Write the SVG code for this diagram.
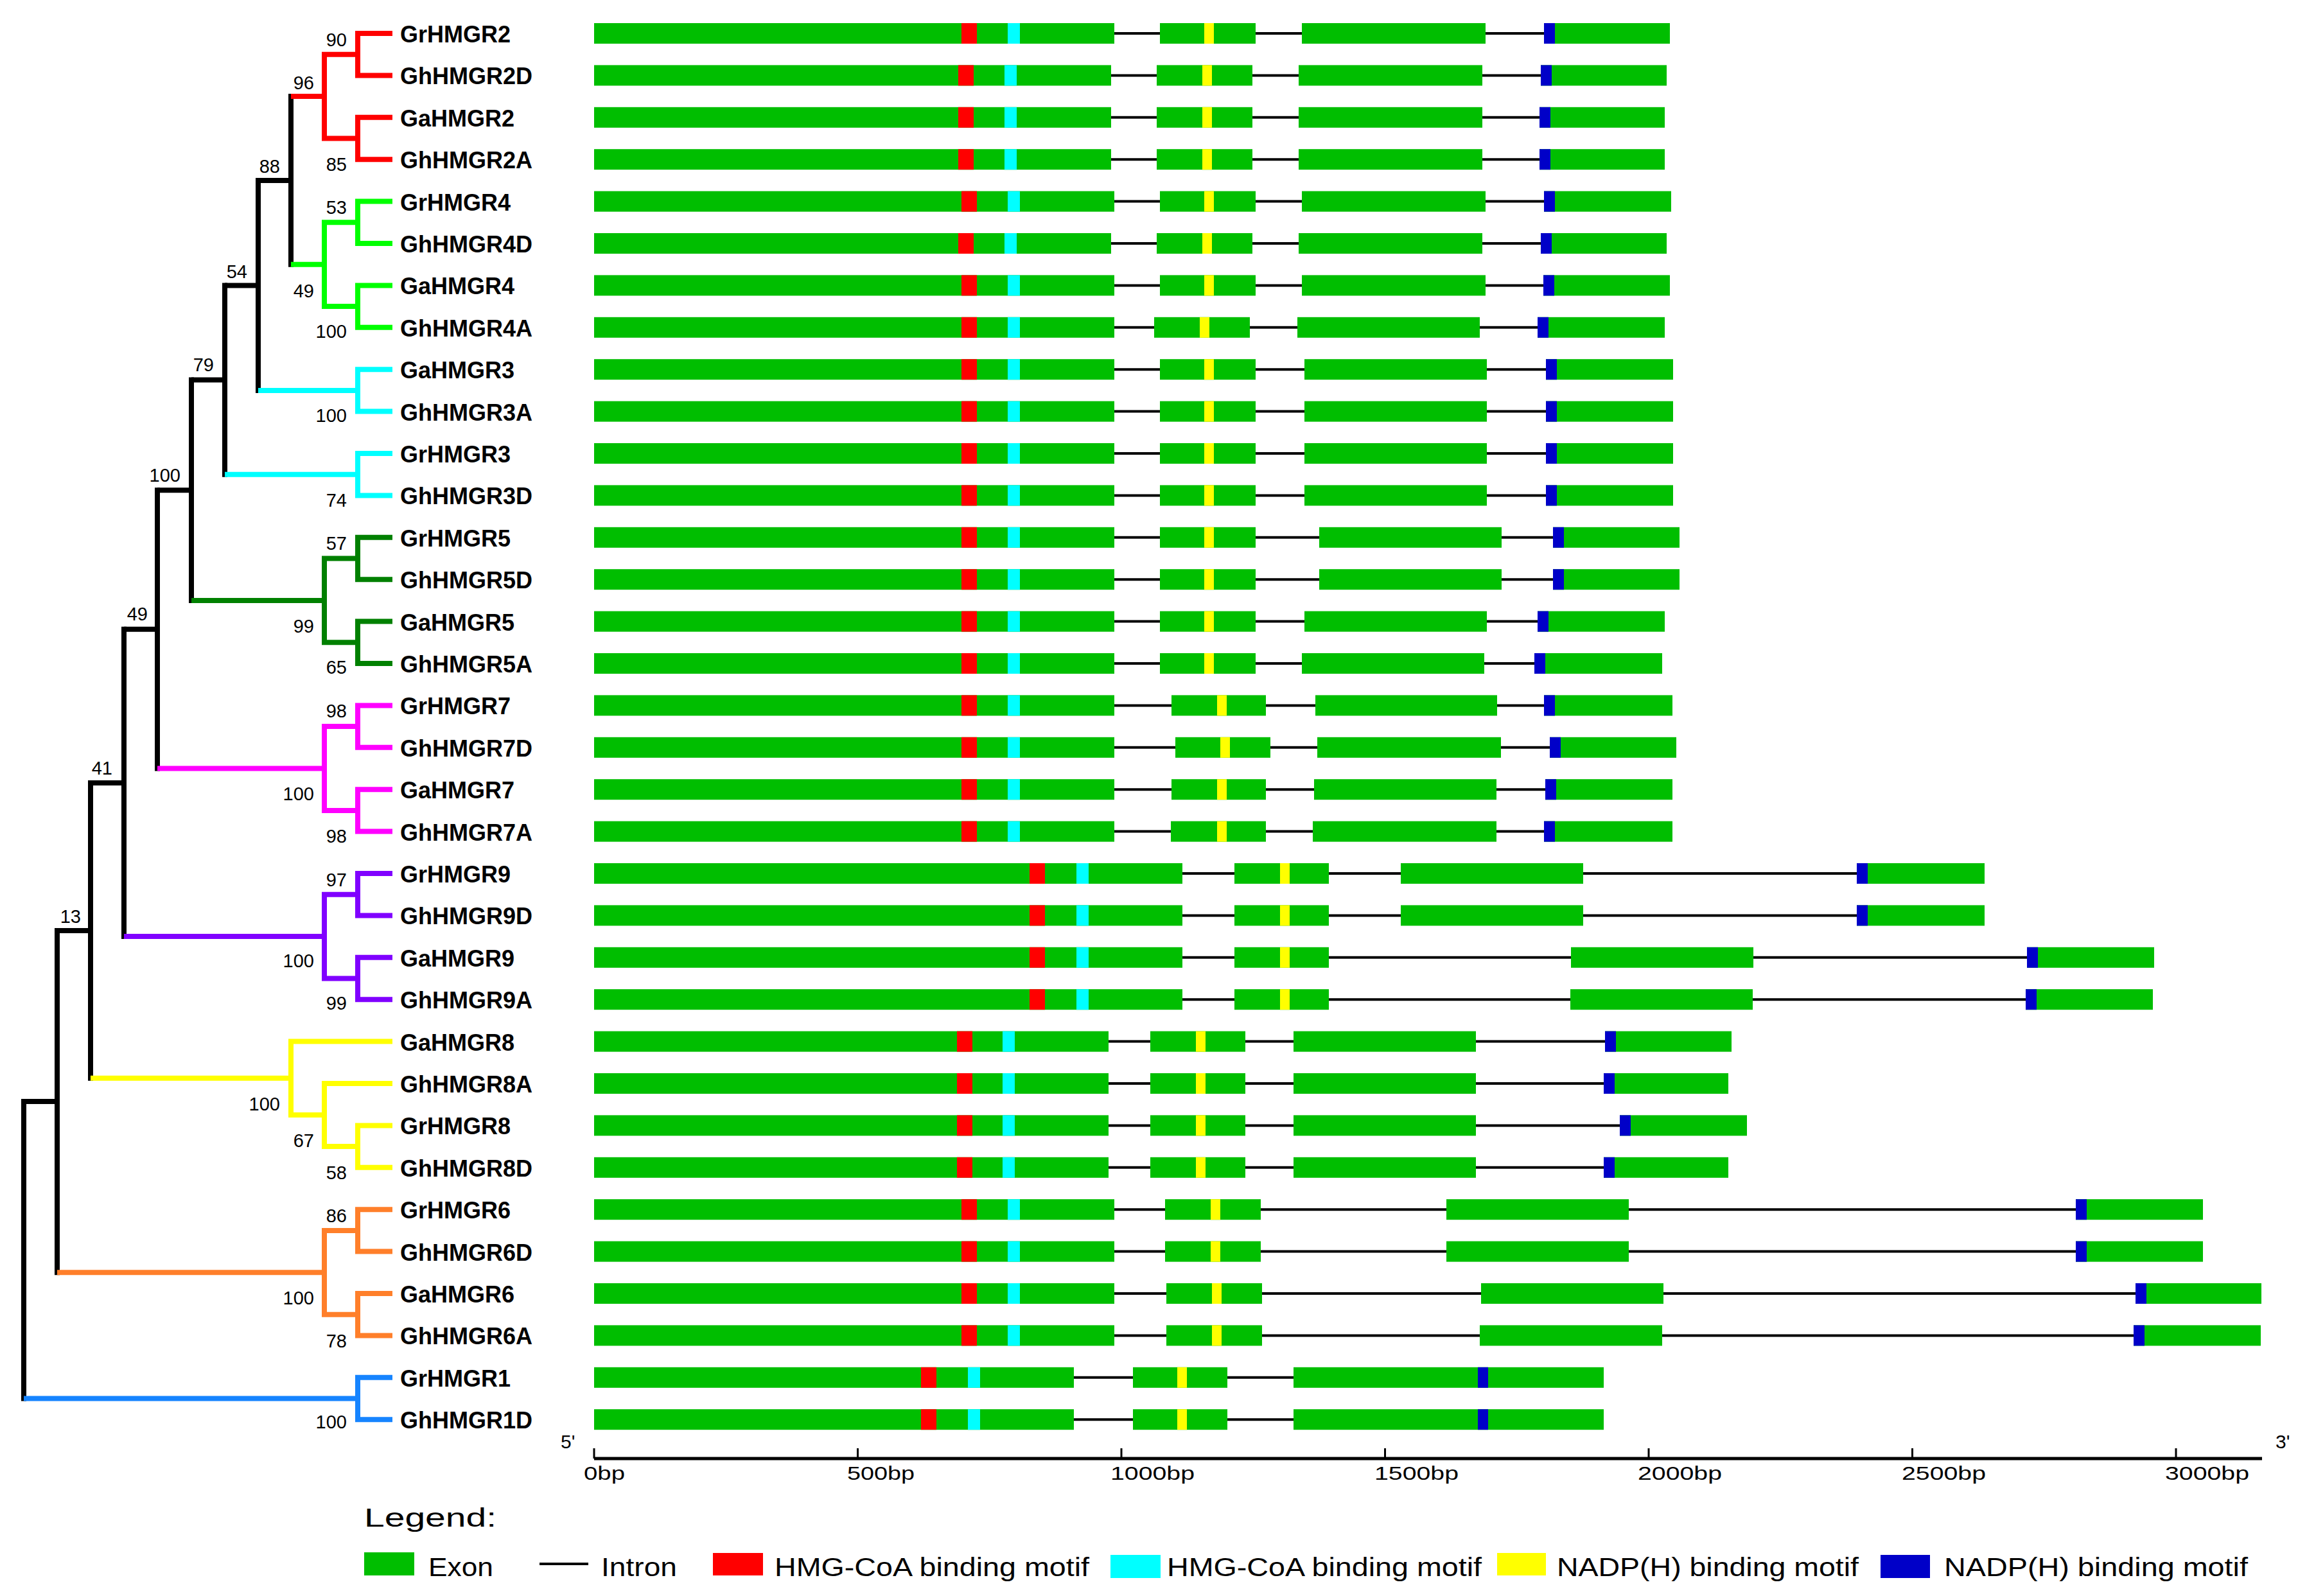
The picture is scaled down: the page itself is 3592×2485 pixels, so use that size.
<svg xmlns="http://www.w3.org/2000/svg" width="3592" height="2485" viewBox="0 0 3592 2485">
<style>
.ex{fill:#00BE00}
.rd{fill:#FF0000}
.cy{fill:#00FFFF}
.yl{fill:#FFFF00}
.bl{fill:#0000C8}
.in{stroke:#000;stroke-width:4}
.lf{font-family:"Liberation Sans",Arial,sans-serif;font-weight:bold;font-size:36px;fill:#000}
.bs{font-family:"Liberation Sans",Arial,sans-serif;font-size:29px;fill:#000;text-anchor:end}
.ax{font-family:"Liberation Sans",Arial,sans-serif;font-size:30px;fill:#000}
.lg{font-family:"Liberation Sans",Arial,sans-serif;font-size:40px;fill:#000}
.br{fill:none;stroke-width:8;stroke-linejoin:miter;stroke-linecap:butt}
</style>
<rect width="3592" height="2485" fill="#fff"/>
<g id="connectors">
<g class="br" stroke="#000">
<path d="M453 146.1V415.7M402 280.9H453"/>
<path d="M402 276.9V611.9M350 444.4H402"/>
<path d="M350 440.4V742.7M298 591.55H350"/>
<path d="M298 587.55V938.9M245 763.2H298"/>
<path d="M245 759.2V1200.5M193 979.85H245"/>
<path d="M193 975.85V1462.1M141 1219H193"/>
<path d="M141 1215V1682.8M89 1448.9H141"/>
<path d="M89 1444.9V1985.3M37 1715.1H89"/>
<path d="M37 1711.1V2181.5"/>
</g>
<g class="br" stroke="#FF0000">
<path d="M611 52H557V117.4H611M611 182.8H557V248.2H611M557 84.7H505V215.5H557M453 150.1H505"/>
</g>
<g class="br" stroke="#00FF00">
<path d="M611 313.6H557V379H611M611 444.4H557V509.8H611M557 346.3H505V477.1H557M453 411.7H505"/>
</g>
<g class="br" stroke="#00FFFF">
<path d="M611 575.2H557V640.6H611M402 607.9H557M611 706H557V771.4H611M350 738.7H557"/>
</g>
<g class="br" stroke="#008000">
<path d="M611 836.8H557V902.2H611M611 967.6H557V1033H611M557 869.5H505V1000.3H557M298 934.9H505"/>
</g>
<g class="br" stroke="#FF00FF">
<path d="M611 1098.4H557V1163.8H611M611 1229.2H557V1294.6H611M557 1131.1H505V1261.9H557M245 1196.5H505"/>
</g>
<g class="br" stroke="#8000FF">
<path d="M611 1360H557V1425.4H611M611 1490.8H557V1556.2H611M557 1392.7H505V1523.5H557M193 1458.1H505"/>
</g>
<g class="br" stroke="#FFFF00">
<path d="M611 1752.4H557V1817.8H611M611 1687H505V1785.1H557M611 1621.6H453V1736.05H505M141 1678.8H453"/>
</g>
<g class="br" stroke="#FF7F2A">
<path d="M611 1883.2H557V1948.6H611M611 2014H557V2079.4H611M557 1915.9H505V2046.7H557M89 1981.3H505"/>
</g>
<g class="br" stroke="#1684FF">
<path d="M611 2144.8H557V2210.2H611M37 2177.5H557"/>
</g>
</g>
<g id="bootstrap">
<text class="bs" x="540" y="72">90</text>
<text class="bs" x="489" y="139">96</text>
<text class="bs" x="540" y="266">85</text>
<text class="bs" x="436" y="269">88</text>
<text class="bs" x="540" y="333">53</text>
<text class="bs" x="385" y="433">54</text>
<text class="bs" x="489" y="463">49</text>
<text class="bs" x="540" y="526">100</text>
<text class="bs" x="333" y="578">79</text>
<text class="bs" x="540" y="657">100</text>
<text class="bs" x="281" y="750">100</text>
<text class="bs" x="540" y="789">74</text>
<text class="bs" x="540" y="856">57</text>
<text class="bs" x="230" y="966">49</text>
<text class="bs" x="489" y="985">99</text>
<text class="bs" x="540" y="1049">65</text>
<text class="bs" x="540" y="1117">98</text>
<text class="bs" x="175" y="1206">41</text>
<text class="bs" x="489" y="1246">100</text>
<text class="bs" x="540" y="1312">98</text>
<text class="bs" x="540" y="1380">97</text>
<text class="bs" x="126" y="1437">13</text>
<text class="bs" x="489" y="1506">100</text>
<text class="bs" x="540" y="1572">99</text>
<text class="bs" x="436" y="1729">100</text>
<text class="bs" x="489" y="1786">67</text>
<text class="bs" x="540" y="1836">58</text>
<text class="bs" x="540" y="1903">86</text>
<text class="bs" x="489" y="2031">100</text>
<text class="bs" x="540" y="2098">78</text>
<text class="bs" x="540" y="2224">100</text>
</g>
<g id="row-GrHMGR2" transform="translate(0,52)"><text class="lf" x="623" y="14">GrHMGR2</text><line class="in" x1="925" y1="0" x2="2600" y2="0"/><rect class="ex" x="925" y="-16" width="810" height="32"/><rect class="ex" x="1806" y="-16" width="149" height="32"/><rect class="ex" x="2027" y="-16" width="286" height="32"/><rect class="ex" x="2404" y="-16" width="196" height="32"/><rect class="rd" x="1497" y="-16" width="24" height="32"/><rect class="cy" x="1569" y="-16" width="19" height="32"/><rect class="yl" x="1875" y="-16" width="15" height="32"/><rect class="bl" x="2404" y="-16" width="17" height="32"/></g>
<g id="row-GhHMGR2D" transform="translate(0,117.4)"><text class="lf" x="623" y="14">GhHMGR2D</text><line class="in" x1="925" y1="0" x2="2595" y2="0"/><rect class="ex" x="925" y="-16" width="805" height="32"/><rect class="ex" x="1801" y="-16" width="149" height="32"/><rect class="ex" x="2022" y="-16" width="286" height="32"/><rect class="ex" x="2399" y="-16" width="196" height="32"/><rect class="rd" x="1492" y="-16" width="24" height="32"/><rect class="cy" x="1564" y="-16" width="19" height="32"/><rect class="yl" x="1872" y="-16" width="15" height="32"/><rect class="bl" x="2399" y="-16" width="17" height="32"/></g>
<g id="row-GaHMGR2" transform="translate(0,182.8)"><text class="lf" x="623" y="14">GaHMGR2</text><line class="in" x1="925" y1="0" x2="2592" y2="0"/><rect class="ex" x="925" y="-16" width="805" height="32"/><rect class="ex" x="1801" y="-16" width="149" height="32"/><rect class="ex" x="2022" y="-16" width="286" height="32"/><rect class="ex" x="2397" y="-16" width="195" height="32"/><rect class="rd" x="1492" y="-16" width="24" height="32"/><rect class="cy" x="1564" y="-16" width="19" height="32"/><rect class="yl" x="1872" y="-16" width="15" height="32"/><rect class="bl" x="2397" y="-16" width="17" height="32"/></g>
<g id="row-GhHMGR2A" transform="translate(0,248.2)"><text class="lf" x="623" y="14">GhHMGR2A</text><line class="in" x1="925" y1="0" x2="2592" y2="0"/><rect class="ex" x="925" y="-16" width="805" height="32"/><rect class="ex" x="1801" y="-16" width="149" height="32"/><rect class="ex" x="2022" y="-16" width="286" height="32"/><rect class="ex" x="2397" y="-16" width="195" height="32"/><rect class="rd" x="1492" y="-16" width="24" height="32"/><rect class="cy" x="1564" y="-16" width="19" height="32"/><rect class="yl" x="1872" y="-16" width="15" height="32"/><rect class="bl" x="2397" y="-16" width="17" height="32"/></g>
<g id="row-GrHMGR4" transform="translate(0,313.6)"><text class="lf" x="623" y="14">GrHMGR4</text><line class="in" x1="925" y1="0" x2="2602" y2="0"/><rect class="ex" x="925" y="-16" width="810" height="32"/><rect class="ex" x="1806" y="-16" width="149" height="32"/><rect class="ex" x="2027" y="-16" width="286" height="32"/><rect class="ex" x="2404" y="-16" width="198" height="32"/><rect class="rd" x="1497" y="-16" width="24" height="32"/><rect class="cy" x="1569" y="-16" width="19" height="32"/><rect class="yl" x="1875" y="-16" width="15" height="32"/><rect class="bl" x="2404" y="-16" width="17" height="32"/></g>
<g id="row-GhHMGR4D" transform="translate(0,379)"><text class="lf" x="623" y="14">GhHMGR4D</text><line class="in" x1="925" y1="0" x2="2595" y2="0"/><rect class="ex" x="925" y="-16" width="805" height="32"/><rect class="ex" x="1801" y="-16" width="149" height="32"/><rect class="ex" x="2022" y="-16" width="286" height="32"/><rect class="ex" x="2399" y="-16" width="196" height="32"/><rect class="rd" x="1492" y="-16" width="24" height="32"/><rect class="cy" x="1564" y="-16" width="19" height="32"/><rect class="yl" x="1872" y="-16" width="15" height="32"/><rect class="bl" x="2399" y="-16" width="17" height="32"/></g>
<g id="row-GaHMGR4" transform="translate(0,444.4)"><text class="lf" x="623" y="14">GaHMGR4</text><line class="in" x1="925" y1="0" x2="2600" y2="0"/><rect class="ex" x="925" y="-16" width="810" height="32"/><rect class="ex" x="1806" y="-16" width="149" height="32"/><rect class="ex" x="2027" y="-16" width="286" height="32"/><rect class="ex" x="2403" y="-16" width="197" height="32"/><rect class="rd" x="1497" y="-16" width="24" height="32"/><rect class="cy" x="1569" y="-16" width="19" height="32"/><rect class="yl" x="1875" y="-16" width="15" height="32"/><rect class="bl" x="2403" y="-16" width="17" height="32"/></g>
<g id="row-GhHMGR4A" transform="translate(0,509.8)"><text class="lf" x="623" y="14">GhHMGR4A</text><line class="in" x1="925" y1="0" x2="2592" y2="0"/><rect class="ex" x="925" y="-16" width="810" height="32"/><rect class="ex" x="1797" y="-16" width="149" height="32"/><rect class="ex" x="2020" y="-16" width="284" height="32"/><rect class="ex" x="2394" y="-16" width="198" height="32"/><rect class="rd" x="1497" y="-16" width="24" height="32"/><rect class="cy" x="1569" y="-16" width="19" height="32"/><rect class="yl" x="1868" y="-16" width="15" height="32"/><rect class="bl" x="2394" y="-16" width="17" height="32"/></g>
<g id="row-GaHMGR3" transform="translate(0,575.2)"><text class="lf" x="623" y="14">GaHMGR3</text><line class="in" x1="925" y1="0" x2="2605" y2="0"/><rect class="ex" x="925" y="-16" width="810" height="32"/><rect class="ex" x="1806" y="-16" width="149" height="32"/><rect class="ex" x="2031" y="-16" width="284" height="32"/><rect class="ex" x="2407" y="-16" width="198" height="32"/><rect class="rd" x="1497" y="-16" width="24" height="32"/><rect class="cy" x="1569" y="-16" width="19" height="32"/><rect class="yl" x="1875" y="-16" width="15" height="32"/><rect class="bl" x="2407" y="-16" width="17" height="32"/></g>
<g id="row-GhHMGR3A" transform="translate(0,640.6)"><text class="lf" x="623" y="14">GhHMGR3A</text><line class="in" x1="925" y1="0" x2="2605" y2="0"/><rect class="ex" x="925" y="-16" width="810" height="32"/><rect class="ex" x="1806" y="-16" width="149" height="32"/><rect class="ex" x="2031" y="-16" width="284" height="32"/><rect class="ex" x="2407" y="-16" width="198" height="32"/><rect class="rd" x="1497" y="-16" width="24" height="32"/><rect class="cy" x="1569" y="-16" width="19" height="32"/><rect class="yl" x="1875" y="-16" width="15" height="32"/><rect class="bl" x="2407" y="-16" width="17" height="32"/></g>
<g id="row-GrHMGR3" transform="translate(0,706)"><text class="lf" x="623" y="14">GrHMGR3</text><line class="in" x1="925" y1="0" x2="2605" y2="0"/><rect class="ex" x="925" y="-16" width="810" height="32"/><rect class="ex" x="1806" y="-16" width="149" height="32"/><rect class="ex" x="2031" y="-16" width="284" height="32"/><rect class="ex" x="2407" y="-16" width="198" height="32"/><rect class="rd" x="1497" y="-16" width="24" height="32"/><rect class="cy" x="1569" y="-16" width="19" height="32"/><rect class="yl" x="1875" y="-16" width="15" height="32"/><rect class="bl" x="2407" y="-16" width="17" height="32"/></g>
<g id="row-GhHMGR3D" transform="translate(0,771.4)"><text class="lf" x="623" y="14">GhHMGR3D</text><line class="in" x1="925" y1="0" x2="2605" y2="0"/><rect class="ex" x="925" y="-16" width="810" height="32"/><rect class="ex" x="1806" y="-16" width="149" height="32"/><rect class="ex" x="2031" y="-16" width="284" height="32"/><rect class="ex" x="2407" y="-16" width="198" height="32"/><rect class="rd" x="1497" y="-16" width="24" height="32"/><rect class="cy" x="1569" y="-16" width="19" height="32"/><rect class="yl" x="1875" y="-16" width="15" height="32"/><rect class="bl" x="2407" y="-16" width="17" height="32"/></g>
<g id="row-GrHMGR5" transform="translate(0,836.8)"><text class="lf" x="623" y="14">GrHMGR5</text><line class="in" x1="925" y1="0" x2="2615" y2="0"/><rect class="ex" x="925" y="-16" width="810" height="32"/><rect class="ex" x="1806" y="-16" width="149" height="32"/><rect class="ex" x="2054" y="-16" width="284" height="32"/><rect class="ex" x="2418" y="-16" width="197" height="32"/><rect class="rd" x="1497" y="-16" width="24" height="32"/><rect class="cy" x="1569" y="-16" width="19" height="32"/><rect class="yl" x="1875" y="-16" width="15" height="32"/><rect class="bl" x="2418" y="-16" width="17" height="32"/></g>
<g id="row-GhHMGR5D" transform="translate(0,902.2)"><text class="lf" x="623" y="14">GhHMGR5D</text><line class="in" x1="925" y1="0" x2="2615" y2="0"/><rect class="ex" x="925" y="-16" width="810" height="32"/><rect class="ex" x="1806" y="-16" width="149" height="32"/><rect class="ex" x="2054" y="-16" width="284" height="32"/><rect class="ex" x="2418" y="-16" width="197" height="32"/><rect class="rd" x="1497" y="-16" width="24" height="32"/><rect class="cy" x="1569" y="-16" width="19" height="32"/><rect class="yl" x="1875" y="-16" width="15" height="32"/><rect class="bl" x="2418" y="-16" width="17" height="32"/></g>
<g id="row-GaHMGR5" transform="translate(0,967.6)"><text class="lf" x="623" y="14">GaHMGR5</text><line class="in" x1="925" y1="0" x2="2592" y2="0"/><rect class="ex" x="925" y="-16" width="810" height="32"/><rect class="ex" x="1806" y="-16" width="149" height="32"/><rect class="ex" x="2031" y="-16" width="284" height="32"/><rect class="ex" x="2394" y="-16" width="198" height="32"/><rect class="rd" x="1497" y="-16" width="24" height="32"/><rect class="cy" x="1569" y="-16" width="19" height="32"/><rect class="yl" x="1875" y="-16" width="15" height="32"/><rect class="bl" x="2394" y="-16" width="17" height="32"/></g>
<g id="row-GhHMGR5A" transform="translate(0,1033)"><text class="lf" x="623" y="14">GhHMGR5A</text><line class="in" x1="925" y1="0" x2="2588" y2="0"/><rect class="ex" x="925" y="-16" width="810" height="32"/><rect class="ex" x="1806" y="-16" width="149" height="32"/><rect class="ex" x="2027" y="-16" width="284" height="32"/><rect class="ex" x="2389" y="-16" width="199" height="32"/><rect class="rd" x="1497" y="-16" width="24" height="32"/><rect class="cy" x="1569" y="-16" width="19" height="32"/><rect class="yl" x="1875" y="-16" width="15" height="32"/><rect class="bl" x="2389" y="-16" width="17" height="32"/></g>
<g id="row-GrHMGR7" transform="translate(0,1098.4)"><text class="lf" x="623" y="14">GrHMGR7</text><line class="in" x1="925" y1="0" x2="2604" y2="0"/><rect class="ex" x="925" y="-16" width="810" height="32"/><rect class="ex" x="1824" y="-16" width="147" height="32"/><rect class="ex" x="2048" y="-16" width="283" height="32"/><rect class="ex" x="2404" y="-16" width="200" height="32"/><rect class="rd" x="1497" y="-16" width="24" height="32"/><rect class="cy" x="1569" y="-16" width="19" height="32"/><rect class="yl" x="1895" y="-16" width="15" height="32"/><rect class="bl" x="2404" y="-16" width="17" height="32"/></g>
<g id="row-GhHMGR7D" transform="translate(0,1163.8)"><text class="lf" x="623" y="14">GhHMGR7D</text><line class="in" x1="925" y1="0" x2="2610" y2="0"/><rect class="ex" x="925" y="-16" width="810" height="32"/><rect class="ex" x="1830" y="-16" width="148" height="32"/><rect class="ex" x="2051" y="-16" width="286" height="32"/><rect class="ex" x="2413" y="-16" width="197" height="32"/><rect class="rd" x="1497" y="-16" width="24" height="32"/><rect class="cy" x="1569" y="-16" width="19" height="32"/><rect class="yl" x="1900" y="-16" width="15" height="32"/><rect class="bl" x="2413" y="-16" width="17" height="32"/></g>
<g id="row-GaHMGR7" transform="translate(0,1229.2)"><text class="lf" x="623" y="14">GaHMGR7</text><line class="in" x1="925" y1="0" x2="2604" y2="0"/><rect class="ex" x="925" y="-16" width="810" height="32"/><rect class="ex" x="1824" y="-16" width="147" height="32"/><rect class="ex" x="2046" y="-16" width="284" height="32"/><rect class="ex" x="2406" y="-16" width="198" height="32"/><rect class="rd" x="1497" y="-16" width="24" height="32"/><rect class="cy" x="1569" y="-16" width="19" height="32"/><rect class="yl" x="1895" y="-16" width="15" height="32"/><rect class="bl" x="2406" y="-16" width="17" height="32"/></g>
<g id="row-GhHMGR7A" transform="translate(0,1294.6)"><text class="lf" x="623" y="14">GhHMGR7A</text><line class="in" x1="925" y1="0" x2="2604" y2="0"/><rect class="ex" x="925" y="-16" width="810" height="32"/><rect class="ex" x="1823" y="-16" width="148" height="32"/><rect class="ex" x="2044" y="-16" width="286" height="32"/><rect class="ex" x="2404" y="-16" width="200" height="32"/><rect class="rd" x="1497" y="-16" width="24" height="32"/><rect class="cy" x="1569" y="-16" width="19" height="32"/><rect class="yl" x="1895" y="-16" width="15" height="32"/><rect class="bl" x="2404" y="-16" width="17" height="32"/></g>
<g id="row-GrHMGR9" transform="translate(0,1360)"><text class="lf" x="623" y="14">GrHMGR9</text><line class="in" x1="925" y1="0" x2="3090" y2="0"/><rect class="ex" x="925" y="-16" width="916" height="32"/><rect class="ex" x="1922" y="-16" width="147" height="32"/><rect class="ex" x="2181" y="-16" width="284" height="32"/><rect class="ex" x="2891" y="-16" width="199" height="32"/><rect class="rd" x="1603" y="-16" width="24" height="32"/><rect class="cy" x="1676" y="-16" width="19" height="32"/><rect class="yl" x="1993" y="-16" width="15" height="32"/><rect class="bl" x="2891" y="-16" width="17" height="32"/></g>
<g id="row-GhHMGR9D" transform="translate(0,1425.4)"><text class="lf" x="623" y="14">GhHMGR9D</text><line class="in" x1="925" y1="0" x2="3090" y2="0"/><rect class="ex" x="925" y="-16" width="916" height="32"/><rect class="ex" x="1922" y="-16" width="147" height="32"/><rect class="ex" x="2181" y="-16" width="284" height="32"/><rect class="ex" x="2891" y="-16" width="199" height="32"/><rect class="rd" x="1603" y="-16" width="24" height="32"/><rect class="cy" x="1676" y="-16" width="19" height="32"/><rect class="yl" x="1993" y="-16" width="15" height="32"/><rect class="bl" x="2891" y="-16" width="17" height="32"/></g>
<g id="row-GaHMGR9" transform="translate(0,1490.8)"><text class="lf" x="623" y="14">GaHMGR9</text><line class="in" x1="925" y1="0" x2="3354" y2="0"/><rect class="ex" x="925" y="-16" width="916" height="32"/><rect class="ex" x="1922" y="-16" width="147" height="32"/><rect class="ex" x="2446" y="-16" width="284" height="32"/><rect class="ex" x="3156" y="-16" width="198" height="32"/><rect class="rd" x="1603" y="-16" width="24" height="32"/><rect class="cy" x="1676" y="-16" width="19" height="32"/><rect class="yl" x="1993" y="-16" width="15" height="32"/><rect class="bl" x="3156" y="-16" width="17" height="32"/></g>
<g id="row-GhHMGR9A" transform="translate(0,1556.2)"><text class="lf" x="623" y="14">GhHMGR9A</text><line class="in" x1="925" y1="0" x2="3352" y2="0"/><rect class="ex" x="925" y="-16" width="916" height="32"/><rect class="ex" x="1922" y="-16" width="147" height="32"/><rect class="ex" x="2445" y="-16" width="284" height="32"/><rect class="ex" x="3154" y="-16" width="198" height="32"/><rect class="rd" x="1603" y="-16" width="24" height="32"/><rect class="cy" x="1676" y="-16" width="19" height="32"/><rect class="yl" x="1993" y="-16" width="15" height="32"/><rect class="bl" x="3154" y="-16" width="17" height="32"/></g>
<g id="row-GaHMGR8" transform="translate(0,1621.6)"><text class="lf" x="623" y="14">GaHMGR8</text><line class="in" x1="925" y1="0" x2="2696" y2="0"/><rect class="ex" x="925" y="-16" width="801" height="32"/><rect class="ex" x="1791" y="-16" width="148" height="32"/><rect class="ex" x="2014" y="-16" width="284" height="32"/><rect class="ex" x="2499" y="-16" width="197" height="32"/><rect class="rd" x="1490" y="-16" width="24" height="32"/><rect class="cy" x="1561" y="-16" width="19" height="32"/><rect class="yl" x="1862" y="-16" width="15" height="32"/><rect class="bl" x="2499" y="-16" width="17" height="32"/></g>
<g id="row-GhHMGR8A" transform="translate(0,1687)"><text class="lf" x="623" y="14">GhHMGR8A</text><line class="in" x1="925" y1="0" x2="2691" y2="0"/><rect class="ex" x="925" y="-16" width="801" height="32"/><rect class="ex" x="1791" y="-16" width="148" height="32"/><rect class="ex" x="2014" y="-16" width="284" height="32"/><rect class="ex" x="2497" y="-16" width="194" height="32"/><rect class="rd" x="1490" y="-16" width="24" height="32"/><rect class="cy" x="1561" y="-16" width="19" height="32"/><rect class="yl" x="1862" y="-16" width="15" height="32"/><rect class="bl" x="2497" y="-16" width="17" height="32"/></g>
<g id="row-GrHMGR8" transform="translate(0,1752.4)"><text class="lf" x="623" y="14">GrHMGR8</text><line class="in" x1="925" y1="0" x2="2720" y2="0"/><rect class="ex" x="925" y="-16" width="801" height="32"/><rect class="ex" x="1791" y="-16" width="148" height="32"/><rect class="ex" x="2014" y="-16" width="284" height="32"/><rect class="ex" x="2522" y="-16" width="198" height="32"/><rect class="rd" x="1490" y="-16" width="24" height="32"/><rect class="cy" x="1561" y="-16" width="19" height="32"/><rect class="yl" x="1862" y="-16" width="15" height="32"/><rect class="bl" x="2522" y="-16" width="17" height="32"/></g>
<g id="row-GhHMGR8D" transform="translate(0,1817.8)"><text class="lf" x="623" y="14">GhHMGR8D</text><line class="in" x1="925" y1="0" x2="2691" y2="0"/><rect class="ex" x="925" y="-16" width="801" height="32"/><rect class="ex" x="1791" y="-16" width="148" height="32"/><rect class="ex" x="2014" y="-16" width="284" height="32"/><rect class="ex" x="2497" y="-16" width="194" height="32"/><rect class="rd" x="1490" y="-16" width="24" height="32"/><rect class="cy" x="1561" y="-16" width="19" height="32"/><rect class="yl" x="1862" y="-16" width="15" height="32"/><rect class="bl" x="2497" y="-16" width="17" height="32"/></g>
<g id="row-GrHMGR6" transform="translate(0,1883.2)"><text class="lf" x="623" y="14">GrHMGR6</text><line class="in" x1="925" y1="0" x2="3430" y2="0"/><rect class="ex" x="925" y="-16" width="810" height="32"/><rect class="ex" x="1814" y="-16" width="149" height="32"/><rect class="ex" x="2252" y="-16" width="284" height="32"/><rect class="ex" x="3232" y="-16" width="198" height="32"/><rect class="rd" x="1497" y="-16" width="24" height="32"/><rect class="cy" x="1569" y="-16" width="19" height="32"/><rect class="yl" x="1885" y="-16" width="15" height="32"/><rect class="bl" x="3232" y="-16" width="17" height="32"/></g>
<g id="row-GhHMGR6D" transform="translate(0,1948.6)"><text class="lf" x="623" y="14">GhHMGR6D</text><line class="in" x1="925" y1="0" x2="3430" y2="0"/><rect class="ex" x="925" y="-16" width="810" height="32"/><rect class="ex" x="1814" y="-16" width="149" height="32"/><rect class="ex" x="2252" y="-16" width="284" height="32"/><rect class="ex" x="3232" y="-16" width="198" height="32"/><rect class="rd" x="1497" y="-16" width="24" height="32"/><rect class="cy" x="1569" y="-16" width="19" height="32"/><rect class="yl" x="1885" y="-16" width="15" height="32"/><rect class="bl" x="3232" y="-16" width="17" height="32"/></g>
<g id="row-GaHMGR6" transform="translate(0,2014)"><text class="lf" x="623" y="14">GaHMGR6</text><line class="in" x1="925" y1="0" x2="3521" y2="0"/><rect class="ex" x="925" y="-16" width="810" height="32"/><rect class="ex" x="1816" y="-16" width="149" height="32"/><rect class="ex" x="2306" y="-16" width="284" height="32"/><rect class="ex" x="3325" y="-16" width="196" height="32"/><rect class="rd" x="1497" y="-16" width="24" height="32"/><rect class="cy" x="1569" y="-16" width="19" height="32"/><rect class="yl" x="1887" y="-16" width="15" height="32"/><rect class="bl" x="3325" y="-16" width="17" height="32"/></g>
<g id="row-GhHMGR6A" transform="translate(0,2079.4)"><text class="lf" x="623" y="14">GhHMGR6A</text><line class="in" x1="925" y1="0" x2="3520" y2="0"/><rect class="ex" x="925" y="-16" width="810" height="32"/><rect class="ex" x="1816" y="-16" width="149" height="32"/><rect class="ex" x="2304" y="-16" width="284" height="32"/><rect class="ex" x="3322" y="-16" width="198" height="32"/><rect class="rd" x="1497" y="-16" width="24" height="32"/><rect class="cy" x="1569" y="-16" width="19" height="32"/><rect class="yl" x="1887" y="-16" width="15" height="32"/><rect class="bl" x="3322" y="-16" width="17" height="32"/></g>
<g id="row-GrHMGR1" transform="translate(0,2144.8)"><text class="lf" x="623" y="14">GrHMGR1</text><line class="in" x1="925" y1="0" x2="2497" y2="0"/><rect class="ex" x="925" y="-16" width="747" height="32"/><rect class="ex" x="1764" y="-16" width="147" height="32"/><rect class="ex" x="2014" y="-16" width="483" height="32"/><rect class="rd" x="1434" y="-16" width="24" height="32"/><rect class="cy" x="1507" y="-16" width="19" height="32"/><rect class="yl" x="1833" y="-16" width="15" height="32"/><rect class="bl" x="2301" y="-16" width="16" height="32"/></g>
<g id="row-GhHMGR1D" transform="translate(0,2210.2)"><text class="lf" x="623" y="14">GhHMGR1D</text><line class="in" x1="925" y1="0" x2="2497" y2="0"/><rect class="ex" x="925" y="-16" width="747" height="32"/><rect class="ex" x="1764" y="-16" width="147" height="32"/><rect class="ex" x="2014" y="-16" width="483" height="32"/><rect class="rd" x="1434" y="-16" width="24" height="32"/><rect class="cy" x="1507" y="-16" width="19" height="32"/><rect class="yl" x="1833" y="-16" width="15" height="32"/><rect class="bl" x="2301" y="-16" width="16" height="32"/></g>
<g id="axis">
<line x1="925" y1="2271" x2="3522" y2="2271" stroke="#000" stroke-width="5"/>
<g stroke="#000" stroke-width="3">
<line x1="925" y1="2255" x2="925" y2="2271"/>
<line x1="1335.5" y1="2255" x2="1335.5" y2="2271"/>
<line x1="1746" y1="2255" x2="1746" y2="2271"/>
<line x1="2156.5" y1="2255" x2="2156.5" y2="2271"/>
<line x1="2567" y1="2255" x2="2567" y2="2271"/>
<line x1="2977.5" y1="2255" x2="2977.5" y2="2271"/>
<line x1="3388" y1="2255" x2="3388" y2="2271"/>
</g>
<text class="ax" x="909" y="2304" textLength="64" lengthAdjust="spacingAndGlyphs">0bp</text>
<text class="ax" x="1319" y="2304" textLength="105" lengthAdjust="spacingAndGlyphs">500bp</text>
<text class="ax" x="1729" y="2304" textLength="131" lengthAdjust="spacingAndGlyphs">1000bp</text>
<text class="ax" x="2140" y="2304" textLength="131" lengthAdjust="spacingAndGlyphs">1500bp</text>
<text class="ax" x="2550" y="2304" textLength="131" lengthAdjust="spacingAndGlyphs">2000bp</text>
<text class="ax" x="2961" y="2304" textLength="131" lengthAdjust="spacingAndGlyphs">2500bp</text>
<text class="ax" x="3371" y="2304" textLength="131" lengthAdjust="spacingAndGlyphs">3000bp</text>
<text class="ax" x="873" y="2255" font-size="32">5'</text>
<text class="ax" x="3543" y="2255" font-size="32">3'</text>
</g>
<g id="legend">
<text class="lg" x="567" y="2377" font-size="44" textLength="206" lengthAdjust="spacingAndGlyphs">Legend:</text>
<rect class="ex" x="567" y="2417" width="78" height="36"/>
<text class="lg" x="667" y="2454" textLength="101" lengthAdjust="spacingAndGlyphs">Exon</text>
<line class="in" x1="840" y1="2435" x2="916" y2="2435"/>
<text class="lg" x="936" y="2454" textLength="118" lengthAdjust="spacingAndGlyphs">Intron</text>
<rect class="rd" x="1110" y="2418" width="78" height="35"/>
<text class="lg" x="1206" y="2454" textLength="490" lengthAdjust="spacingAndGlyphs">HMG-CoA binding motif</text>
<rect class="cy" x="1729" y="2421" width="78" height="36"/>
<text class="lg" x="1817" y="2454" textLength="490" lengthAdjust="spacingAndGlyphs">HMG-CoA binding motif</text>
<rect class="yl" x="2331" y="2418" width="76" height="35"/>
<text class="lg" x="2424" y="2454" textLength="470" lengthAdjust="spacingAndGlyphs">NADP(H) binding motif</text>
<rect class="bl" x="2928" y="2421" width="77" height="36"/>
<text class="lg" x="3027" y="2454" textLength="473" lengthAdjust="spacingAndGlyphs">NADP(H) binding motif</text>
</g>
</svg>
